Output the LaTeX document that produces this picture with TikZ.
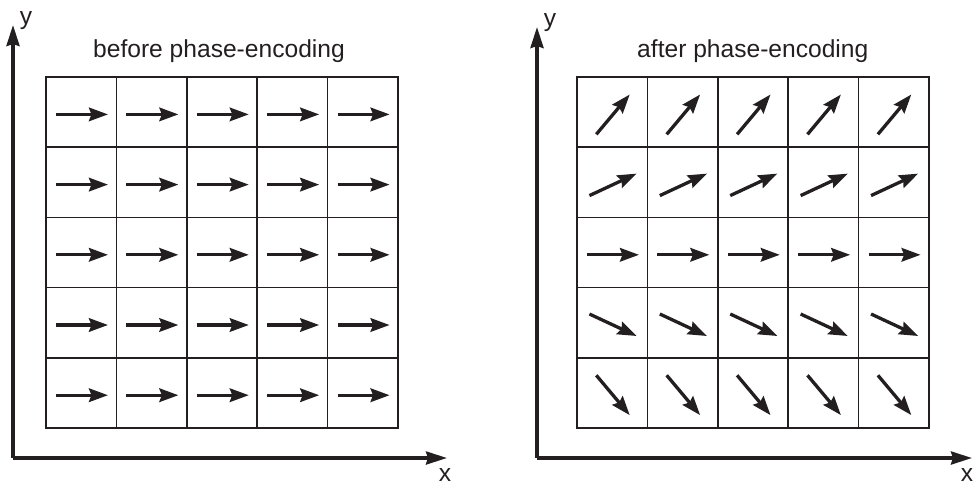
\documentclass[tikz,border=0pt]{standalone}
\usepackage{fontspec}
\setmainfont{Liberation Sans}
\usetikzlibrary{arrows.meta,calc}
\definecolor{ink}{RGB}{35,31,32}
\begin{document}
\begin{tikzpicture}[x=1pt,y=-1pt,
  axis/.style={draw=ink,line width=3.4pt,-{Stealth[length=21pt,width=13pt,inset=2pt]}},
  cellbox/.style={draw=ink,line width=1.7pt},
  vec/.style={draw=ink,line width=3.3pt,-{Stealth[length=19pt,width=13.5pt,inset=2.5pt]}},
  lbl/.style={text=ink,font=\fontsize{24.6}{28}\selectfont,anchor=base,inner sep=0pt}]
\useasboundingbox (0,0) rectangle (973,485);
% axes left
\coordinate (oL) at (13,458);
\coordinate (yL) at (13,25);
\coordinate (xL) at (447,458);
\draw[axis] (oL) -- (yL);
\draw[axis] (oL) -- (xL);
% axes right
\coordinate (oR) at (537,458);
\coordinate (yR) at (537,27);
\coordinate (xR) at (972,458);
\draw[axis] (oR) -- (yR);
\draw[axis] (oR) -- (xR);
% labels
\node[lbl] (ly1) at (26,24.5) {y};
\node[lbl] (lx1) at (445,481.5) {x};
\node[lbl] (ly2) at (550,26) {y};
\node[lbl] (lx2) at (967,481.5) {x};
\node[lbl] (t1) at (219,57.7) {before phase-encoding};
\node[lbl] (t2) at (752.8,57.7) {after phase-encoding};
% grids
\foreach \gx in {46,577}{
  \foreach \i in {0,...,4}{
    \foreach \j in {0,...,4}{
      \draw[cellbox] ({\gx+\i*70.4},{77+\j*70.2}) rectangle ({\gx+(\i+1)*70.4},{77+(\j+1)*70.2});
    }
  }
}
% left arrows (all horizontal)
\foreach \i in {0,...,4}{
  \foreach \j in {0,...,4}{
    \coordinate (c) at ({46+\i*70.4+35.2+0.8},{77+\j*70.2+35.1+2.3});
    \draw[vec] ($(c)+(-26,0)$) -- ($(c)+(26,0)$);
  }
}
% right arrows
\foreach \j/\ang in {0/50,1/25,2/0,3/-25,4/-50}{
  \foreach \i in {0,...,4}{
    \coordinate (c) at ({577+\i*70.4+35.2+0.8},{77+\j*70.2+35.1+2.3});
    \draw[vec] ($(c)+({-26*cos(\ang)},{26*sin(\ang)})$) -- ($(c)+({26*cos(\ang)},{-26*sin(\ang)})$);
  }
}
\end{tikzpicture}
\end{document}
